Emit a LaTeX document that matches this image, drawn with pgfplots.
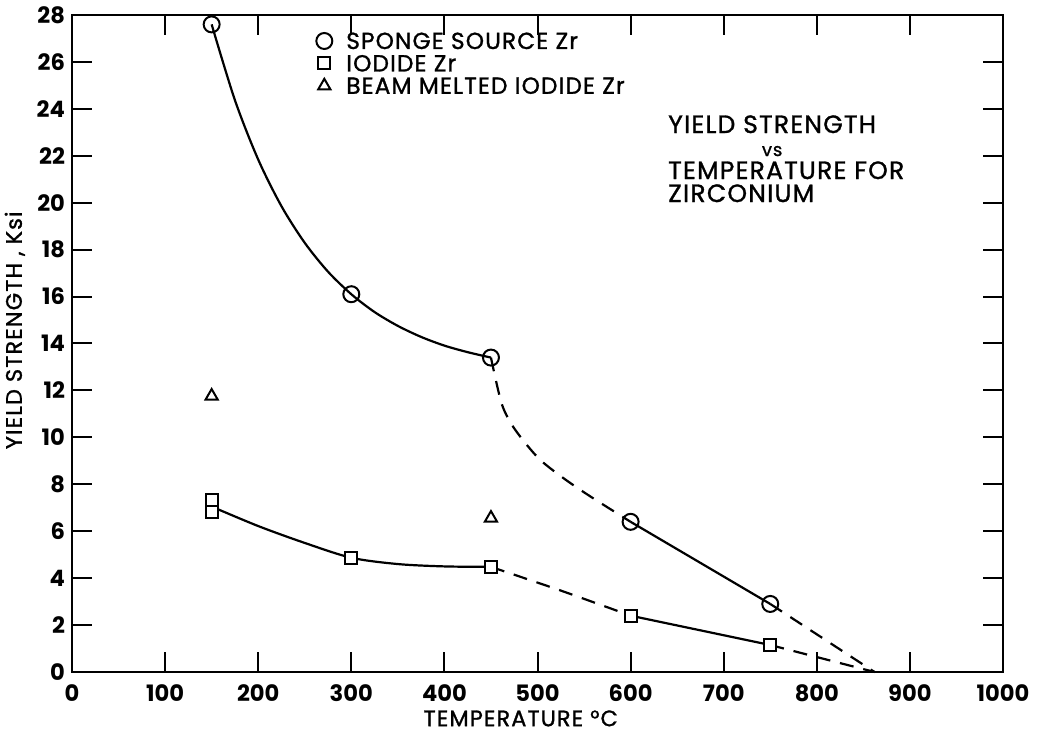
\documentclass[border=0pt]{standalone}
\usepackage{pgfplots}
\pgfplotsset{compat=1.18}
\usepackage{calc}
\usepackage{fontspec}
\setmainfont{Poppins}
\newfontfamily\lettering{Poppins}[FakeBold=1.2, LetterSpace=5]
\begin{document}
\begin{tikzpicture}
\useasboundingbox (-36pt,-30pt) rectangle (483pt,336pt);
\begin{axis}[
  at={(0,0)}, anchor=south west,
  scale only axis, width=465.5pt, height=328.5pt,
  xmin=0, xmax=1000, ymin=0, ymax=28,
  xtick={0,100,...,1000}, ytick={0,2,...,28},
  tick align=inside, major tick length=10pt,
  axis line style={line width=1.1pt},
  every tick/.style={black, line width=1pt},
  /pgf/number format/assume math mode=true,
  /pgf/number format/1000 sep={},
  tick label style={font=\bfseries\fontsize{11.3}{11.3}\selectfont},
  xticklabel style={yshift=-3pt},
  label style={font=\lettering\fontsize{11.2}{11.2}\selectfont},
  xlabel={TEMPERATURE °C},
  ylabel={YIELD STRENGTH , Ksi},
  xlabel style={at={(axis description cs:0.482,0)}, anchor=north, yshift=-19pt, inner sep=0pt},
  ylabel style={at={(ticklabel cs:0.52)}, anchor=south, yshift=-1pt},
  clip=false,
  legend style={at={(axis cs:262,27.25)}, anchor=north west, draw=none, fill=none,
    font=\lettering\fontsize{11.6}{11.6}\selectfont, row sep=3.2pt, inner sep=0pt,
    nodes={inner sep=0pt, text height=8pt, text depth=0pt},
    /tikz/every odd column/.append style={column sep=7pt}},
  legend cell align=left,
]
% sponge curves
\addplot[black, line width=1.1pt, smooth, forget plot] coordinates {
(150,27.60) (175,24.37) (200,21.84) (225,19.85) (250,18.29) (275,17.06) (300,16.10)
(325,15.34) (350,14.75) (375,14.28) (400,13.91) (425,13.63) (450,13.40)};
\addplot[black, line width=1.1pt, smooth, dash pattern=on 7pt off 5pt, forget plot] coordinates {
(450,13.4) (461,11.5) (471.5,10.6) (486,9.8) (504,9.0) (530,8.2) (558,7.45) (600,6.4)};
\addplot[black, line width=1.1pt, forget plot] coordinates {(600,6.4) (750,2.9)};
\addplot[black, line width=1.1pt, dash pattern=on 7pt off 5pt, forget plot] coordinates {(750,2.9) (862,0)};
% iodide curves
\addplot[black, line width=1.1pt, smooth, forget plot] coordinates {
(150,7.05) (200,6.22) (250,5.5) (300,4.87) (350,4.6) (400,4.5) (450,4.48)};
\addplot[black, line width=1.1pt, smooth, dash pattern=on 7pt off 5pt, forget plot] coordinates {
(450,4.48) (525,3.47) (600,2.4)};
\addplot[black, line width=1.1pt, forget plot] coordinates {(600,2.4) (750,1.15)};
\addplot[black, line width=1.1pt, dash pattern=on 7pt off 5pt, forget plot] coordinates {(750,1.15) (862,0)};
% markers
\addplot[only marks, mark=o, mark size=4pt, mark options={black, fill=white, line width=1pt}] coordinates {
(150,27.6) (300,16.1) (450,13.4) (600,6.4) (750,2.9)};
\addlegendentry{SPONGE SOURCE Zr}
\addplot[only marks, mark=square*, mark size=3pt, mark options={black, fill=white, line width=1pt}] coordinates {
(150,7.34) (150,6.82) (300,4.87) (450,4.48) (600,2.4) (750,1.15)};
\addlegendentry{IODIDE Zr}
\addplot[only marks, mark=triangle*, mark size=3.5pt, mark options={black, fill=white, line width=1pt}] coordinates {
(150,11.76) (450,6.56)};
\addlegendentry{BEAM MELTED IODIDE Zr}
\node[anchor=base west, align=left, inner sep=0pt, font=\lettering\fontsize{12.5}{11.5}\selectfont] at (axis cs:640,20.03) {%
YIELD STRENGTH\\
\makebox[\widthof{YIELD STRENGTH}]{\fontsize{9}{9}\selectfont vs}\\
TEMPERATURE FOR\\
ZIRCONIUM};
\end{axis}
\end{tikzpicture}
\end{document}
